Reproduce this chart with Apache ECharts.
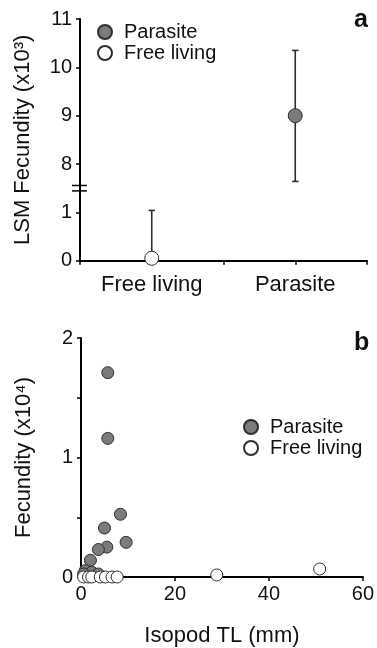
<!DOCTYPE html>
<html>
<head>
<meta charset="utf-8">
<script src="https://cdn.jsdelivr.net/npm/echarts@6/dist/echarts.min.js"></script>
<style>
html,body{margin:0;padding:0;background:#fff;}
#c{width:377px;height:648px;}
</style>
</head>
<body>
<div id="c"></div>
<script>
// ---- Panel a data (x10^3) ----
const catsA = ['Free living', 'Parasite'];
const meanA = [0.05, 9.0];
const lowA = [0.0, 7.64];
const highA = [1.04, 10.35];
const yTicksA = [0, 1, 8, 9, 10, 11];

// ---- Panel b data (TL mm, fecundity x10^4) ----
const parasiteTL = [5.7, 5.7, 8.4, 5.0, 9.6, 5.5, 3.7, 2.0, 0.9, 2.3, 3.7, 0.55];
const parasiteF = [1.71, 1.16, 0.525, 0.41, 0.29, 0.25, 0.23, 0.14, 0.053, 0.04, 0.025, 0.025];
const freeTL = [0.55, 1.6, 2.3, 4.1, 5.2, 6.6, 7.7, 28.9, 50.8];
const freeF = [0, 0, 0, 0, 0, 0, 0, 0.017, 0.067];
const xTicksB = [0, 20, 40, 60];

const FONT = 'Liberation Sans, Arial, sans-serif';
const GRAY = '#7b7b7b';
const EDGE = '#2e2e2e';
const INK = '#111111';

// broken-axis transform for panel a: values above the break are shifted down
function brk(v) { return v <= 1.5 ? v : v - 6; }
function unbrk(d) { return d <= 1.5 ? d : d + 6; }
function catPos(i) { return 2 * i + 1; }

const chart = echarts.init(document.getElementById('c'));

const axisCommon = {
  axisLine: { show: true, lineStyle: { color: '#000', width: 2 } },
  axisTick: { show: true, inside: false, length: 4, lineStyle: { color: '#000', width: 1.5 } },
  splitLine: { show: false },
  axisLabel: { color: INK, fontFamily: FONT, fontSize: 20 }
};

const errData = catsA.map((c, i) => [catPos(i), brk(lowA[i]), brk(highA[i])]);

const option = {
  backgroundColor: '#fff',
  animation: false,
  textStyle: { fontFamily: FONT },
  grid: [
    { left: 80, right: 10, top: 19, bottom: 387.3, containLabel: false },
    { left: 81, right: 14, top: 338, bottom: 70, containLabel: false }
  ],
  legend: [
    {
      data: ['Parasite', 'Free living'], orient: 'vertical', left: 92, top: 17,
      itemWidth: 28, itemHeight: 14, itemGap: 1, icon: 'circle',
      textStyle: { fontSize: 20, color: INK, fontFamily: FONT, lineHeight: 20 },
      selectedMode: false
    },
    {
      data: ['Parasite', 'Free living'], orient: 'vertical', left: 238, top: 412,
      itemWidth: 28, itemHeight: 14, itemGap: 1, icon: 'circle',
      textStyle: { fontSize: 20, color: INK, fontFamily: FONT, lineHeight: 20 },
      selectedMode: false
    }
  ],
  xAxis: [
    Object.assign({}, axisCommon, {
      gridIndex: 0, type: 'value', min: 0, max: 4, interval: 1,
      axisLabel: Object.assign({}, axisCommon.axisLabel, {
        fontSize: 22, margin: 13,
        formatter: function (v) {
          for (let i = 0; i < catsA.length; i++) if (Math.abs(v - catPos(i)) < 1e-6) return catsA[i];
          return '';
        }
      })
    }),
    Object.assign({}, axisCommon, {
      gridIndex: 1, type: 'value', min: xTicksB[0], max: xTicksB[xTicksB.length - 1], interval: 20,
      name: 'Isopod TL (mm)', nameLocation: 'middle', nameGap: 48,
      nameTextStyle: { fontSize: 22, color: INK, fontFamily: FONT },
      axisLabel: Object.assign({}, axisCommon.axisLabel, { margin: 7 })
    })
  ],
  yAxis: [
    Object.assign({}, axisCommon, {
      gridIndex: 0, type: 'value', min: 0, max: brk(yTicksA[yTicksA.length - 1]), interval: 1,
      name: 'LSM Fecundity (x10³)', nameLocation: 'middle', nameGap: 46, nameRotate: 90,
      nameTextStyle: { fontSize: 22, color: INK, fontFamily: FONT },
      axisLabel: Object.assign({}, axisCommon.axisLabel, {
        margin: 8,
        formatter: function (d) {
          const v = unbrk(d);
          return yTicksA.indexOf(v) >= 0 ? String(v) : '';
        }
      })
    }),
    Object.assign({}, axisCommon, {
      gridIndex: 1, type: 'value', min: 0, max: 2, interval: 0.5,
      name: 'Fecundity (x10⁴)', nameLocation: 'middle', nameGap: 46, nameRotate: 90,
      nameTextStyle: { fontSize: 22, color: INK, fontFamily: FONT },
      axisLabel: Object.assign({}, axisCommon.axisLabel, {
        margin: 8,
        formatter: function (v) { return Math.abs(v - Math.round(v)) < 1e-6 ? String(Math.round(v)) : ''; }
      })
    })
  ],
  series: [
    {
      type: 'custom', xAxisIndex: 0, yAxisIndex: 0, z: 3, clip: false,
      data: errData,
      renderItem: function (params, api) {
        const x = api.value(0);
        const lo = api.coord([x, api.value(1)]);
        const hi = api.coord([x, api.value(2)]);
        const cap = 3.2;
        const style = { stroke: EDGE, lineWidth: 1.6, fill: null };
        return {
          type: 'group',
          children: [
            { type: 'line', shape: { x1: lo[0], y1: lo[1], x2: hi[0], y2: hi[1] }, style: style },
            { type: 'line', shape: { x1: hi[0] - cap, y1: hi[1], x2: hi[0] + cap, y2: hi[1] }, style: style },
            { type: 'line', shape: { x1: lo[0] - cap, y1: lo[1], x2: lo[0] + cap, y2: lo[1] }, style: style }
          ]
        };
      }
    },
    {
      name: 'Parasite', type: 'scatter', xAxisIndex: 0, yAxisIndex: 0, z: 5, clip: false,
      symbol: 'circle', symbolSize: 14,
      itemStyle: { color: GRAY, borderColor: EDGE, borderWidth: 1, opacity: 1 },
      data: [[catPos(1), brk(meanA[1])]]
    },
    {
      name: 'Free living', type: 'scatter', xAxisIndex: 0, yAxisIndex: 0, z: 5, clip: false,
      symbol: 'circle', symbolSize: 14,
      itemStyle: { color: '#ffffff', borderColor: EDGE, borderWidth: 1, opacity: 1 },
      data: [[catPos(0), brk(meanA[0])]]
    },
    {
      name: 'Parasite', type: 'scatter', xAxisIndex: 1, yAxisIndex: 1, z: 5, clip: false,
      symbol: 'circle', symbolSize: 12,
      itemStyle: { color: GRAY, borderColor: EDGE, borderWidth: 1, opacity: 1 },
      data: parasiteTL.map((x, i) => [x, parasiteF[i]])
    },
    {
      name: 'Free living', type: 'scatter', xAxisIndex: 1, yAxisIndex: 1, z: 6, clip: false,
      symbol: 'circle', symbolSize: 12,
      itemStyle: { color: '#ffffff', borderColor: EDGE, borderWidth: 1, opacity: 1 },
      data: freeTL.map((x, i) => [x, freeF[i]])
    }
  ],
  graphic: [
    { type: 'text', left: 354, top: 8, style: { text: 'a', font: 'bold 25px ' + FONT, fill: INK } },
    { type: 'text', left: 354, top: 331, style: { text: 'b', font: 'bold 25px ' + FONT, fill: INK } }
  ]
};

chart.setOption(option);

// axis-break marks on panel a's y axis, located through the axis scale
const p = chart.convertToPixel({ gridIndex: 0 }, [0, 1.5]);
chart.setOption({
  graphic: option.graphic.concat([
    { type: 'line', z: 10, shape: { x1: p[0] - 8, y1: p[1] - 2.7, x2: p[0] + 7, y2: p[1] - 2.7 }, style: { stroke: '#000', lineWidth: 1.5 } },
    { type: 'line', z: 10, shape: { x1: p[0] - 8, y1: p[1] + 2.7, x2: p[0] + 7, y2: p[1] + 2.7 }, style: { stroke: '#000', lineWidth: 1.5 } }
  ])
});
</script>
</body>
</html>
